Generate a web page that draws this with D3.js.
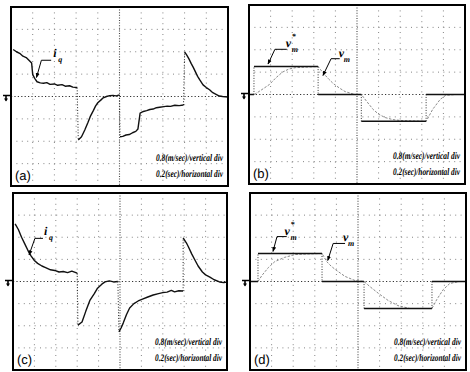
<!DOCTYPE html>
<html>
<head>
<meta charset="utf-8">
<script src="https://cdn.jsdelivr.net/npm/d3@7"></script>
<style>
  body { margin: 0; background: #fff; }
  svg { display: block; }
  text { text-rendering: geometricPrecision; }
</style>
</head>
<body>
<div id="chart"></div>
<script>
// scope settings: 0.2 s/div over 10 div, 8 vertical div (0 at centre)
const timeDomain = [0, 2];
const divDomain = [-4, 4];
const timeTicks = d3.range(1, 10).map(k => k * 0.2);
const divTicks = d3.range(-3, 4);
const scaleText = ["0.8(m/sec)/vertical div", "0.2(sec)/horizontal div"];
const panelNames = ["(a)", "(b)", "(c)", "(d)"];

// i_q traces [time s, div], split where the trace jumps
const iqA = [
  [[0.02, 2.1], [0.05, 2.0], [0.08, 1.93], [0.11, 1.8], [0.14, 1.74], [0.17, 1.6], [0.19, 1.5],
   [0.2, 0.98], [0.22, 0.8], [0.24, 0.66], [0.27, 0.61], [0.3, 0.59], [0.33, 0.62], [0.36, 0.54],
   [0.4, 0.56], [0.43, 0.5], [0.47, 0.53], [0.5, 0.46], [0.54, 0.48], [0.57, 0.42], [0.61, 0.4]],
  [[0.62, -1.94], [0.65, -1.8], [0.68, -1.5], [0.71, -1.15], [0.73, -0.9], [0.76, -0.62], [0.78, -0.42],
   [0.8, -0.28], [0.83, -0.15], [0.85, -0.06], [0.88, 0.0], [0.91, 0.04], [0.94, 0.05], [0.97, 0.03], [1.0, 0.07]],
  [[1.005, -1.8], [1.03, -1.78], [1.06, -1.72], [1.09, -1.7], [1.12, -1.62], [1.15, -1.56], [1.17, -1.45],
   [1.19, -0.74], [1.22, -0.67], [1.25, -0.63], [1.28, -0.58], [1.31, -0.56], [1.34, -0.5], [1.37, -0.48],
   [1.41, -0.45], [1.44, -0.43], [1.47, -0.44], [1.51, -0.39], [1.55, -0.41], [1.59, -0.38]],
  [[1.6, 1.99], [1.62, 1.85], [1.64, 1.68], [1.66, 1.48], [1.68, 1.3], [1.7, 1.1], [1.72, 0.9], [1.74, 0.74],
   [1.77, 0.52], [1.8, 0.4], [1.83, 0.3], [1.86, 0.17], [1.89, 0.1], [1.92, 0.02], [1.95, 0.0], [2.0, -0.02]]
];
const iqC = [
  [[0.02, 2.6], [0.05, 2.35], [0.08, 2.0], [0.11, 1.7], [0.14, 1.4], [0.17, 1.15], [0.2, 0.95], [0.23, 0.82],
   [0.27, 0.7], [0.31, 0.62], [0.35, 0.53], [0.39, 0.5], [0.43, 0.43], [0.47, 0.45], [0.51, 0.4],
   [0.55, 0.47], [0.6, 0.38]],
  [[0.607, -1.97], [0.645, -1.83], [0.68, -1.35], [0.72, -0.84], [0.76, -0.55], [0.79, -0.3],
   [0.83, -0.12], [0.86, -0.02], [0.9, 0.03], [0.94, -0.02], [0.98, 0.0]],
  [[0.99, -2.28], [1.01, -2.1], [1.03, -1.88], [1.06, -1.5], [1.09, -1.2], [1.13, -1.0], [1.17, -0.88],
   [1.21, -0.8], [1.26, -0.7], [1.31, -0.61], [1.36, -0.55], [1.4, -0.5], [1.44, -0.48], [1.48, -0.4],
   [1.51, -0.47], [1.55, -0.42], [1.59, -0.43]],
  [[1.59, 1.97], [1.62, 1.75], [1.64, 1.56], [1.67, 1.25], [1.7, 0.97], [1.73, 0.7], [1.77, 0.43],
   [1.8, 0.3], [1.84, 0.2], [1.88, 0.08], [1.93, -0.02], [1.97, -0.05], [2.0, -0.02]]
];

// v_m* reference: [switch time s, level div]; last entry closes the sweep
const refB = [[0, 0], [0.046, 1.25], [0.64, 0], [1.04, -1.2], [1.64, 0], [2, 0]];
const refD = [[0, 0], [0.074, 1.27], [0.667, 0], [1.056, -1.22], [1.685, 0], [2, 0]];

// measured v_m [time s, div]
const vmB = [[0.05, 0], [0.12, 0.22], [0.19, 0.45], [0.25, 0.75], [0.31, 1.0], [0.37, 1.14], [0.43, 1.2],
  [0.64, 1.25], [0.69, 0.94], [0.74, 0.68], [0.78, 0.49], [0.84, 0.28], [0.89, 0.13], [0.98, 0.0],
  [1.04, 0], [1.09, -0.31], [1.15, -0.67], [1.2, -0.88], [1.26, -1.03], [1.33, -1.12], [1.4, -1.16],
  [1.64, -1.2], [1.7, -0.67], [1.77, -0.22], [1.82, -0.04], [1.91, 0]];
const vmD = [[0.074, 0], [0.11, 0.27], [0.17, 0.63], [0.23, 0.9], [0.32, 1.09], [0.42, 1.22], [0.667, 1.27],
  [0.71, 0.9], [0.75, 0.7], [0.79, 0.54], [0.88, 0.23], [0.97, 0.05], [1.056, 0],
  [1.11, -0.23], [1.19, -0.54], [1.28, -0.86], [1.37, -1.09], [1.48, -1.22], [1.685, -1.22],
  [1.73, -0.81], [1.79, -0.36], [1.85, -0.09], [1.94, 0]];

// trace labels: text anchor, bar start, bar end, arrow tip (all in [time, div])
const labelsA = [{ base: "i", sub: "q", star: false, text: [0.39, 1.75], bar: [[0.28, 1.62], [0.37, 1.62]], tip: [0.235, 0.85] }];
const labelsC = [{ base: "i", sub: "q", star: false, text: [0.29, 2.1], bar: [[0.205, 1.95], [0.28, 1.95]], tip: [0.15, 1.2] }];
const labelsB = [
  { base: "v", sub: "m", star: true, text: [0.34, 2.12], bar: [[0.24, 2.02], [0.35, 2.02]], tip: [0.176, 1.36] },
  { base: "v", sub: "m", star: false, text: [0.83, 1.68], bar: [[0.76, 1.6], [0.84, 1.6]], tip: [0.685, 0.85] }
];
const labelsD = [
  { base: "v", sub: "m", star: true, text: [0.32, 2.12], bar: [[0.25, 2.03], [0.34, 2.03]], tip: [0.213, 1.36] },
  { base: "v", sub: "m", star: false, text: [0.86, 1.82], bar: [[0.77, 1.72], [0.88, 1.72]], tip: [0.72, 0.95] }
];

const width = 470, height = 372;

const panels = [
  { name: panelNames[0], x: 11, y: 7, w: 217, h: 179, iq: iqA, labels: labelsA },
  { name: panelNames[1], x: 249, y: 5, w: 216, h: 179, ref: refB, vm: vmB, labels: labelsB },
  { name: panelNames[2], x: 13, y: 193, w: 214, h: 177, iq: iqC, labels: labelsC },
  { name: panelNames[3], x: 250, y: 193, w: 216, h: 177, ref: refD, vm: vmD, labels: labelsD }
];

const svg = d3.select("#chart").append("svg")
  .attr("width", width)
  .attr("height", height)
  .style("background", "#fff");

svg.append("defs").append("marker")
  .attr("id", "tip")
  .attr("viewBox", "0 0 10 10")
  .attr("refX", 9).attr("refY", 5)
  .attr("markerWidth", 5).attr("markerHeight", 5)
  .attr("orient", "auto")
  .append("path")
  .attr("d", "M0,1L10,5L0,9Z")
  .attr("fill", "#000");

function labelText(g, px, py, str, size) {
  return g.append("text")
    .attr("x", px).attr("y", py)
    .attr("font-family", "Liberation Serif, serif")
    .attr("font-style", "italic")
    .attr("font-weight", "bold")
    .attr("font-size", size)
    .attr("fill", "#000")
    .text(str);
}

panels.forEach(p => {
  const g = svg.append("g").attr("transform", `translate(${p.x},${p.y})`);
  const x = d3.scaleLinear().domain(timeDomain).range([0, p.w]);
  const y = d3.scaleLinear().domain(divDomain).range([p.h, 0]);
  const isMid = d => Math.abs(d - 1) < 1e-6;

  // graticule
  g.selectAll(".vgrid").data(timeTicks).enter().append("line")
    .attr("x1", d => x(d)).attr("x2", d => x(d))
    .attr("y1", 0).attr("y2", p.h)
    .attr("stroke", d => isMid(d) ? "#444" : "#777")
    .attr("stroke-width", d => isMid(d) ? 1.1 : 0.9)
    .attr("stroke-dasharray", d => isMid(d) ? "1,1.6" : "1,4.4");

  g.selectAll(".hgrid").data(divTicks).enter().append("line")
    .attr("x1", 0).attr("x2", p.w)
    .attr("y1", d => y(d)).attr("y2", d => y(d))
    .attr("stroke", d => d === 0 ? "#333" : "#777")
    .attr("stroke-width", d => d === 0 ? 1.2 : 0.9)
    .attr("stroke-dasharray", d => d === 0 ? "1.2,2.2" : "1,4.4");

  const line = d3.line().x(d => x(d[0])).y(d => y(d[1]));

  if (p.iq) {
    // jumps between pieces are faint on the scope
    p.iq.slice(1).forEach((piece, i) => {
      const prev = p.iq[i];
      g.append("path")
        .attr("d", line([prev[prev.length - 1], piece[0]]))
        .attr("fill", "none")
        .attr("stroke", "#222")
        .attr("stroke-width", 1)
        .attr("stroke-dasharray", "1,1.8");
    });
    p.iq.forEach(piece => {
      g.append("path")
        .attr("d", line(piece))
        .attr("fill", "none")
        .attr("stroke", "#111")
        .attr("stroke-width", 1.4)
        .attr("stroke-linejoin", "round");
    });
  }

  if (p.ref) {
    // measured v_m, light trace
    g.append("path")
      .attr("d", line(p.vm))
      .attr("fill", "none")
      .attr("stroke", "#8a8a8a")
      .attr("stroke-width", 1)
      .attr("stroke-dasharray", "2.5,1.5");

    // reference steps: flat parts solid, edges dotted
    p.ref.slice(0, -1).forEach((s, i) => {
      const next = p.ref[i + 1];
      g.append("line")
        .attr("x1", x(s[0])).attr("x2", x(next[0]))
        .attr("y1", y(s[1])).attr("y2", y(s[1]))
        .attr("stroke", "#111")
        .attr("stroke-width", 1.5);
      if (next[1] !== s[1]) {
        g.append("line")
          .attr("x1", x(next[0])).attr("x2", x(next[0]))
          .attr("y1", y(s[1])).attr("y2", y(next[1]))
          .attr("stroke", "#333")
          .attr("stroke-width", 1)
          .attr("stroke-dasharray", "1,1.6");
      }
    });
  }

  // trace labels with leader
  p.labels.forEach(l => {
    g.append("path")
      .attr("d", line([l.bar[1], l.bar[0], l.tip]))
      .attr("fill", "none")
      .attr("stroke", "#000")
      .attr("stroke-width", 1)
      .attr("marker-end", "url(#tip)");
    const tx = x(l.text[0]), ty = y(l.text[1]);
    labelText(g, tx, ty, l.base, 12);
    if (l.star) {
      labelText(g, tx + 6, ty - 8, "*", 8);
      labelText(g, tx + 6, ty + 5, l.sub, 8);
    } else {
      labelText(g, tx + 5, ty + 5, l.sub, 8);
    }
  });

  // scale note, squeezed horizontally like the scan
  scaleText.forEach((s, i) => {
    const t = g.append("text")
      .attr("text-anchor", "end")
      .attr("font-family", "Liberation Serif, serif")
      .attr("font-style", "italic")
      .attr("font-weight", "bold")
      .attr("font-size", 10)
      .attr("fill", "#000")
      .text(s);
    const natural = t.node().getComputedTextLength();
    const sx = 67 / natural;
    t.attr("transform", `translate(${p.w - 5},${p.h - 25 + i * 16}) scale(${sx},1)`);
  });

  g.append("text")
    .attr("x", 4).attr("y", p.h - 6)
    .attr("font-family", "Liberation Sans, Arial, sans-serif")
    .attr("font-size", 13)
    .attr("fill", "#000")
    .text(p.name);

  // frame
  g.append("rect")
    .attr("x", 0).attr("y", 0)
    .attr("width", p.w).attr("height", p.h)
    .attr("fill", "none")
    .attr("stroke", "#000")
    .attr("stroke-width", 2);

  // ground marker at zero level
  g.append("path")
    .attr("d", `M${-8},${y(0) - 1}L${1},${y(0) - 1}M${-5},${y(0) - 1}L${-5},${y(0) + 4}`)
    .attr("stroke", "#000")
    .attr("stroke-width", 1.6)
    .attr("fill", "none");
  g.append("path")
    .attr("d", `M${-7},${y(0) + 2}L${-3},${y(0) + 2}L${-5},${y(0) + 5}Z`)
    .attr("fill", "#000");
});
</script>
</body>
</html>
